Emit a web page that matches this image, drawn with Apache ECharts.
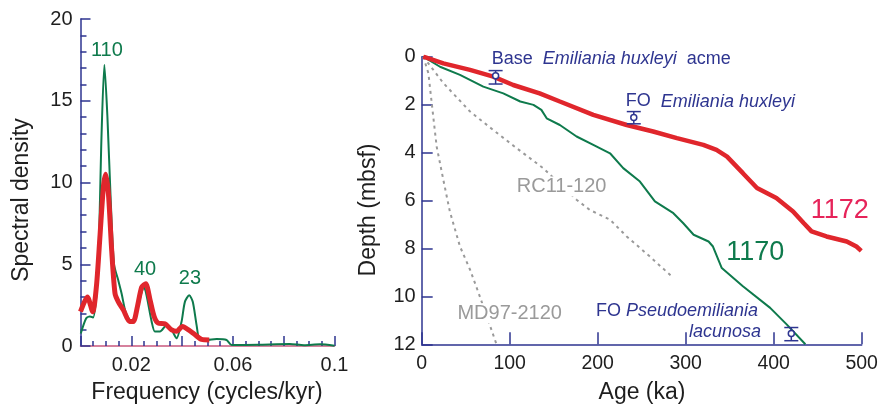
<!DOCTYPE html>
<html>
<head>
<meta charset="utf-8">
<script src="https://cdn.jsdelivr.net/npm/echarts@6/dist/echarts.min.js"></script>
<style>
  html, body { margin: 0; padding: 0; background: #fff; }
  #chart { width: 878px; height: 404px; }
</style>
</head>
<body>
<div id="chart"></div>
<script>
// spectral panel (left): frequency in cycles/kyr, spectral density
const specGreenFreq = [0.0001, 0.0022, 0.0037, 0.0050, 0.0069, 0.0083, 0.0094, 0.0106, 0.0119, 0.0132, 0.0149, 0.0162, 0.0179, 0.0201, 0.0221, 0.0241, 0.0250, 0.0260, 0.0280, 0.0293, 0.0313, 0.0339, 0.0359, 0.0378, 0.0398, 0.0411, 0.0428, 0.0442, 0.0457, 0.0470, 0.0496, 0.0536, 0.0575, 0.0595, 0.0700, 0.0824, 0.0880, 0.0943, 0.1000]
const specGreenVal = [0.76, 1.68, 1.8, 1.75, 4.8, 13.0, 17.2, 14.0, 8.9, 5.0, 4.0, 3.2, 2.0, 1.5, 2.1, 3.3, 3.6, 3.1, 1.5, 0.88, 0.88, 1.28, 0.98, 0.47, 1.5, 2.7, 3.1, 2.7, 1.28, 0.37, 0.37, 0.43, 0.37, 0.06, 0.08, 0.12, 0.05, 0.1, 0.02]
const specRedFreq = [0.0000, 0.0027, 0.0048, 0.0063, 0.0077, 0.0090, 0.0099, 0.0110, 0.0123, 0.0136, 0.0149, 0.0169, 0.0193, 0.0208, 0.0224, 0.0241, 0.0257, 0.0274, 0.0290, 0.0306, 0.0332, 0.0359, 0.0378, 0.0402, 0.0424, 0.0450, 0.0477, 0.0507]
const specRedVal = [2.1, 3.0, 2.1, 3.7, 6.8, 9.7, 10.5, 9.3, 5.8, 3.2, 2.7, 2.2, 1.5, 1.5, 2.4, 3.6, 3.8, 2.8, 1.8, 1.4, 1.36, 0.98, 0.9, 1.2, 1.0, 0.7, 0.4, 0.37]
const freqTickLabels = ['0.02', '0.06', '0.1']
const peakLabels = ['110', '40', '23']
const peakFreq = [0.0104, 0.0254, 0.0431]
const peakVal = [18.1, 4.7, 4.15]

// age model panel (right): age in ka, depth in mbsf
const ageRed = [1.8, 24.6, 54.9, 81.4, 104, 134, 157, 195, 233, 263, 290, 320, 335, 347, 365, 381, 403, 422, 434, 443, 460, 483, 494, 499.5]
const depthRed = [0, 0.28, 0.55, 0.83, 1.18, 1.53, 1.87, 2.43, 2.85, 3.12, 3.4, 3.68, 3.89, 4.17, 4.86, 5.48, 5.9, 6.46, 6.94, 7.29, 7.5, 7.71, 7.92, 8.1]
const ageGreen = [1.8, 20.8, 43.5, 70, 92.7, 112, 127, 136, 142, 157, 176, 195, 214, 229, 248, 265, 286, 297, 309, 326, 331, 341, 365, 396, 415, 436]
const depthGreen = [0, 0.42, 0.76, 1.25, 1.53, 1.87, 2.01, 2.22, 2.57, 2.85, 3.33, 3.68, 4.03, 4.65, 5.21, 6.04, 6.53, 6.94, 7.43, 7.71, 7.92, 8.82, 9.58, 10.48, 11.18, 12.0]
const ageRC = [1.8, 24.6, 55, 81, 108, 138, 176, 191, 214, 233, 259, 286]
const depthRC = [0, 1.1, 2.29, 3.05, 3.82, 4.65, 5.97, 6.39, 6.8, 7.5, 8.33, 9.23]
const ageMD = [1.8, 7.6, 11.4, 17, 24.6, 32, 43.5, 55, 66, 85]
const depthMD = [0, 0.69, 1.94, 3.75, 5.14, 6.46, 7.92, 8.89, 10.0, 12.0]
// biostratigraphic datums: age, top/bottom of depth range, midpoint
const datumAge = [84, 241, 420]
const datumTop = [0.58, 2.29, 11.3]
const datumBot = [1.14, 2.8, 11.85]
const datumMid = [0.79, 2.54, 11.55]

const navy = '#2e3590'
const green = '#0e7a4c'
const red = '#e0262c'
const grey = '#9a9a9a'
const ink = '#1e1e1e'
const font = 'Liberation Sans, Arial, sans-serif'

const zip = (a, b) => a.map((v, i) => [v, b[i]])

const chart = echarts.init(document.getElementById('chart'))

const option = {
  animation: false,
  textStyle: { fontFamily: font },
  grid: [
    { left: 80.5, top: 19, width: 254, height: 327, outerBoundsMode: 'none' },
    { left: 421.7, top: 56.7, width: 440, height: 287.6, outerBoundsMode: 'none' }
  ],
  xAxis: [
    {
      gridIndex: 0, type: 'value', min: 0, max: 0.1, interval: 0.02,
      axisLine: { lineStyle: { color: '#c9587e', width: 1.5 } },
      axisTick: { inside: true, length: 10, lineStyle: { color: navy, width: 1.5 } },
      minorTick: { show: true, splitNumber: 4, length: 5, lineStyle: { color: navy, width: 1.5 } },
      splitLine: { show: false },
      axisLabel: {
        color: ink, fontSize: 20, margin: 9,
        formatter: v => {
          const s = String(+v.toFixed(3))
          return freqTickLabels.includes(s) ? s : ''
        }
      }
    },
    {
      gridIndex: 1, type: 'value', min: 0, max: 500, interval: 100, position: 'bottom',
      axisLine: { onZero: false, lineStyle: { color: navy, width: 1.5 } },
      axisTick: { inside: true, length: 12, lineStyle: { color: navy, width: 1.5 } },
      splitLine: { show: false },
      axisLabel: { color: ink, fontSize: 19.5, margin: 9 }
    }
  ],
  yAxis: [
    {
      gridIndex: 0, type: 'value', min: 0, max: 20, interval: 5,
      axisLine: { show: true, lineStyle: { color: navy, width: 1.5 } },
      axisTick: { show: true, inside: true, length: 10, lineStyle: { color: navy, width: 1.5 } },
      minorTick: { show: true, splitNumber: 5, length: 6, lineStyle: { color: navy, width: 1.5 } },
      splitLine: { show: false },
      axisLabel: { color: ink, fontSize: 20, margin: 8 }
    },
    {
      gridIndex: 1, type: 'value', min: 0, max: 12, interval: 2, inverse: true,
      axisLine: { show: true, lineStyle: { color: navy, width: 1.5 } },
      axisTick: { show: true, inside: true, length: 11, lineStyle: { color: navy, width: 1.5 } },
      splitLine: { show: false },
      axisLabel: { color: ink, fontSize: 20, margin: 6 }
    }
  ],
  series: [
    {
      type: 'line', xAxisIndex: 0, yAxisIndex: 0, symbol: 'none', smooth: 0.25,
      lineStyle: { color: green, width: 2 }, data: zip(specGreenFreq, specGreenVal), z: 3
    },
    {
      type: 'line', xAxisIndex: 0, yAxisIndex: 0, symbol: 'none', smooth: 0.25,
      lineStyle: { color: red, width: 5 }, data: zip(specRedFreq, specRedVal), z: 4
    },
    {
      type: 'line', xAxisIndex: 1, yAxisIndex: 1, symbol: 'none',
      lineStyle: { color: grey, width: 2, type: [3, 4] }, data: zip(ageRC, depthRC), z: 2
    },
    {
      type: 'line', xAxisIndex: 1, yAxisIndex: 1, symbol: 'none',
      lineStyle: { color: grey, width: 2, type: [3, 4] }, data: zip(ageMD, depthMD), z: 2
    },
    {
      type: 'line', xAxisIndex: 1, yAxisIndex: 1, symbol: 'none',
      lineStyle: { color: green, width: 2 }, data: zip(ageGreen, depthGreen), z: 3
    },
    {
      type: 'line', xAxisIndex: 1, yAxisIndex: 1, symbol: 'none',
      lineStyle: { color: red, width: 4.5 }, data: zip(ageRed, depthRed), z: 4
    },
    {
      type: 'custom', xAxisIndex: 1, yAxisIndex: 1, z: 5,
      data: datumAge.map((a, i) => [a, datumTop[i], datumBot[i], datumMid[i]]),
      renderItem: (params, api) => {
        const a = api.value(0)
        const t = api.coord([a, api.value(1)])
        const b = api.coord([a, api.value(2)])
        const m = api.coord([a, api.value(3)])
        const w = 7
        const st = { stroke: navy, lineWidth: 1.5 }
        return {
          type: 'group',
          children: [
            { type: 'line', shape: { x1: t[0], y1: t[1], x2: b[0], y2: b[1] }, style: st },
            { type: 'line', shape: { x1: t[0] - w, y1: t[1], x2: t[0] + w, y2: t[1] }, style: st },
            { type: 'line', shape: { x1: b[0] - w, y1: b[1], x2: b[0] + w, y2: b[1] }, style: st },
            { type: 'circle', shape: { cx: m[0], cy: m[1], r: 3 }, style: { fill: '#fff', stroke: navy, lineWidth: 1.5 } }
          ]
        }
      }
    }
  ]
}
chart.setOption(option)

// text annotations placed in data coordinates
const txt = (grid, at, text, style) => {
  const p = chart.convertToPixel({ gridIndex: grid }, at)
  return { type: 'text', x: p[0], y: p[1], z: 10, style: Object.assign({ text: text, fontFamily: font, fontSize: 18, verticalAlign: 'middle', align: 'center' }, style) }
}
const title = (x, y, text, rotate) => ({
  type: 'text', x: x, y: y, rotation: rotate ? Math.PI / 2 : 0,
  style: { text: text, fontFamily: font, fontSize: 23, fill: ink, align: 'center', verticalAlign: 'middle' }
})
const rich = {
  n: { fontFamily: font, fontSize: 18, fill: navy },
  i: { fontFamily: font, fontSize: 18, fill: navy, fontStyle: 'italic' }
}
const graphics = peakLabels.map((l, i) => txt(0, [peakFreq[i], peakVal[i]], l, { fill: green, fontSize: 20 }))
graphics.push(
  txt(1, [79.5, 0.1], '{n|Base  }{i|Emiliania huxleyi}{n|  acme}', { align: 'left', rich: rich }),
  txt(1, [232, 1.87], '{n|FO  }{i|Emiliania huxleyi}', { align: 'left', rich: rich }),
  txt(1, [198, 10.6], '{n|FO }{i|Pseudoemiliania}', { align: 'left', rich: rich }),
  txt(1, [385.6, 11.5], '{i|lacunosa}', { align: 'right', rich: rich }),
  txt(1, [159, 5.42], 'RC11-120', { fill: grey, fontSize: 20, backgroundColor: '#fff', padding: [0, 2] }),
  txt(1, [100, 10.7], 'MD97-2120', { fill: grey, fontSize: 20, backgroundColor: '#fff', padding: [0, 2] }),
  txt(1, [475, 6.43], '1172', { fill: '#e6245a', fontSize: 27 }),
  txt(1, [379, 8.17], '1170', { fill: green, fontSize: 27 }),
  title(207, 393, 'Frequency (cycles/kyr)', false),
  title(642, 393, 'Age (ka)', false),
  title(22, 200, 'Spectral density', true),
  title(369, 210, 'Depth (mbsf)', true)
)
chart.setOption({ graphic: graphics })
</script>
</body>
</html>
